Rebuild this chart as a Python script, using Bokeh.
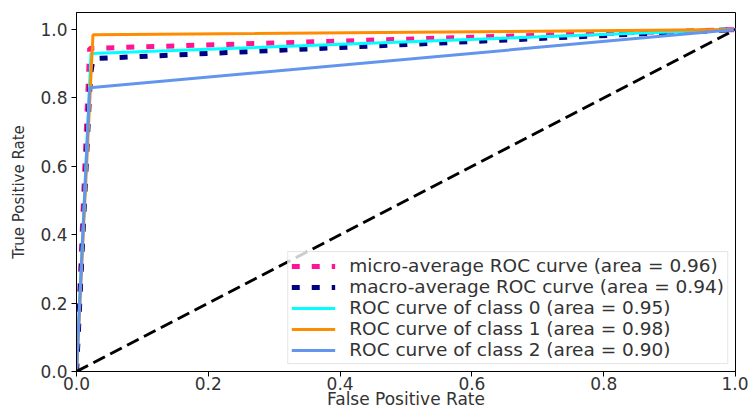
from bokeh.plotting import figure
from bokeh.models import Legend, LegendItem, Range1d, FixedTicker, CustomJSTickFormatter
from bokeh.embed import file_html
from bokeh.resources import INLINE

# ROC curve points
micro_fpr = [0.0, 0.02, 1.0]
micro_tpr = [0.0, 0.945, 1.0]
macro_fpr = [0.0, 0.02, 0.022, 0.025, 1.0]
macro_tpr = [0.0, 0.82, 0.876, 0.915, 1.0]
c0_fpr = [0.0, 0.022, 1.0]
c0_tpr = [0.0, 0.93, 1.0]
c1_fpr = [0.0, 0.025, 1.0]
c1_tpr = [0.0, 0.985, 1.0]
c2_fpr = [0.0, 0.02, 1.0]
c2_tpr = [0.0, 0.83, 1.0]
diag = [0.0, 1.0]
labels = [
    "micro-average ROC curve (area = 0.96)",
    "macro-average ROC curve (area = 0.94)",
    "ROC curve of class 0 (area = 0.95)",
    "ROC curve of class 1 (area = 0.98)",
    "ROC curve of class 2 (area = 0.90)",
]
ticks = [0.0, 0.2, 0.4, 0.6, 0.8, 1.0]
x_title = "False Positive Rate"
y_title = "True Positive Rate"

FONT = "DejaVu Sans"

p = figure(width=748, height=411, output_backend="svg", toolbar_location=None,
           x_range=Range1d(0, 1), y_range=Range1d(0, 1.05),
           min_border_left=76, min_border_right=13, min_border_top=12, min_border_bottom=40)
p.grid.visible = False
p.outline_line_color = "black"
p.outline_line_width = 1
p.background_fill_color = "white"
p.border_fill_color = "white"

r_micro = p.line(micro_fpr, micro_tpr, line_color="#ff1493", line_width=5, line_dash="8 12")
r_macro = p.line(macro_fpr, macro_tpr, line_color="#000080", line_width=5, line_dash="8 12")
r0 = p.line(c0_fpr, c0_tpr, line_color="#00ffff", line_width=3)
r1 = p.line(c1_fpr, c1_tpr, line_color="#ff8c00", line_width=3)
r2 = p.line(c2_fpr, c2_tpr, line_color="#6495ed", line_width=3)
p.line(diag, diag, line_color="black", line_width=3, line_dash="13 6")

for ax in (p.xaxis[0], p.yaxis[0]):
    ax.ticker = FixedTicker(ticks=ticks)
    ax.formatter = CustomJSTickFormatter(code="return tick.toFixed(1);")
    ax.minor_tick_line_color = None
    ax.major_tick_in = 0
    ax.major_tick_out = 5
    ax.major_tick_line_color = "black"
    ax.axis_line_color = "black"
    ax.major_label_text_font = FONT
    ax.major_label_text_font_size = "17px"
    ax.major_label_text_color = "#333333"
    ax.axis_label_text_font = FONT
    ax.axis_label_text_font_style = "normal"
    ax.axis_label_text_color = "#333333"

p.xaxis[0].axis_label = x_title
p.xaxis[0].axis_label_text_font_size = "17px"
p.xaxis[0].major_label_standoff = 0
p.xaxis[0].axis_label_standoff = -4
p.xaxis[0].major_label_text_line_height = 1.0
p.xaxis[0].axis_label_text_line_height = 1.0

p.yaxis[0].axis_label = y_title
p.yaxis[0].axis_label_text_font_size = "15px"
p.yaxis[0].major_label_standoff = 4
p.yaxis[0].axis_label_standoff = 9

legend = Legend(items=[
    LegendItem(label=labels[0], renderers=[r_micro]),
    LegendItem(label=labels[1], renderers=[r_macro]),
    LegendItem(label=labels[2], renderers=[r0]),
    LegendItem(label=labels[3], renderers=[r1]),
    LegendItem(label=labels[4], renderers=[r2]),
], location="bottom_right")
legend.margin = 7
legend.padding = 3
legend.spacing = 0
legend.glyph_width = 44
legend.glyph_height = 18
legend.label_height = 18
legend.label_standoff = 14
legend.label_text_font = FONT
legend.label_text_font_size = "18.5px"
legend.label_text_color = "#333333"
legend.label_text_line_height = 0.9
legend.border_line_color = "#cccccc"
legend.border_line_width = 1
legend.background_fill_alpha = 0.8
p.add_layout(legend, "center")

open("out.html", "w").write(file_html(p, INLINE))
